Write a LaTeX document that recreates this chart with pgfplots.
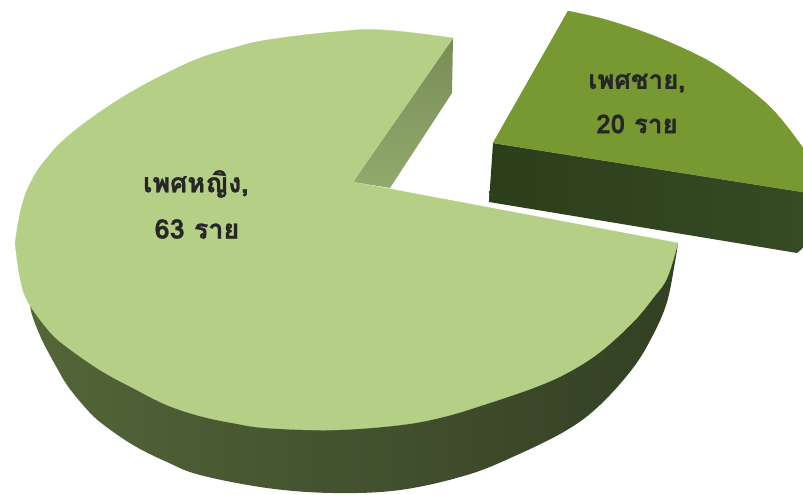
\documentclass[border=0pt]{standalone}
\usepackage{pgfplots}
\pgfplotsset{compat=1.18}
\usepackage{fontspec}
\newfontfamily\thaifont[Script=Thai,BoldFeatures={FakeBold=0.9}]{Loma}

\definecolor{femaleTop}{RGB}{182,207,134}
\definecolor{maleTop}{RGB}{120,152,50}
\definecolor{maleSideA}{RGB}{44,62,26}
\definecolor{maleSideB}{RGB}{54,74,36}
\definecolor{wallA}{RGB}{146,170,110}
\definecolor{wallB}{RGB}{120,140,84}
\definecolor{rimA}{RGB}{115,135,75}
\definecolor{rimB}{RGB}{88,106,58}
\definecolor{rimC}{RGB}{72,88,50}
\definecolor{rimD}{RGB}{62,76,44}
\definecolor{rimE}{RGB}{52,66,36}
\definecolor{rimF}{RGB}{44,58,30}

% Rim of the large slice: lighter on the left, nearly black-green on the right
\pgfdeclarehorizontalshading{femaleRim}{100bp}{
  color(0bp)=(rimA);
  color(20bp)=(rimB);
  color(42bp)=(rimC);
  color(58bp)=(rimD);
  color(73bp)=(rimE);
  color(100bp)=(rimF)}

\begin{document}
\begin{tikzpicture}
% keep the page at the full plot area
\path[use as bounding box] (0,0) rectangle (803pt,495pt);
\begin{axis}[
  scale only axis, width=803pt, height=495pt,
  xmin=0, xmax=803, ymin=0, ymax=495, y dir=reverse,
  axis lines=none, clip=true,
  every axis plot/.append style={no markers, line join=round}]

% male slice: rim, then the top face as a sector body plus its curved edge
\addplot[draw=none, left color=maleSideA, right color=maleSideB] coordinates {
  (493,143) (489,202) (797,253) (803,248) (803,192)} --cycle;
\addplot[draw=maleTop, line width=0.3pt, fill=maleTop] coordinates {
  (568,11) (493,143) (815,194) (815,170)} --cycle;
\addplot[draw=maleTop, line width=0.3pt, fill=maleTop, smooth, tension=0.6] coordinates {
  (568,11) (607,20) (657,37) (707,60) (740,82) (773,110) (803,148) (815,170)} --cycle;

% female slice: outer rim
\addplot[draw=none, shading=femaleRim, smooth, tension=0.6] coordinates {
  (27,285) (30,305) (33,318) (43,342) (57,368) (67,385) (83,405) (100,422) (133,445)
  (167,462) (200,475) (267,488) (333,493) (400,490) (467,475) (517,455) (567,430)
  (600,405) (633,368) (653,335) (667,302) (675,262) (678,243)} --cycle;

% female slice: cut wall seen through the gap
\addplot[draw=none, bottom color=wallA, top color=wallB] coordinates {
  (353,182) (453,38) (452,93) (390,188)} --cycle;

% female slice: top face, a body with the notch plus the back and front arcs
\addplot[draw=femaleTop, line width=0.3pt, fill=femaleTop] coordinates {
  (453,38) (353,182) (678,243) (15,243)} --cycle;
\addplot[draw=femaleTop, line width=0.3pt, fill=femaleTop, smooth, tension=0.7] coordinates {
  (453,38) (383,30) (333,32) (267,40) (233,48) (200,58) (167,73) (133,91) (100,112)
  (67,137) (47,158) (33,178) (22,205) (15,243)} --cycle;
\addplot[draw=femaleTop, line width=0.3pt, fill=femaleTop, smooth, tension=0.6] coordinates {
  (15,243) (20,278) (28,302) (50,332)
  (67,347) (100,370) (133,388) (167,405) (200,416) (233,423) (267,428) (333,430)
  (400,425) (443,417) (483,405) (533,388) (567,373) (600,352) (633,322) (653,298)
  (667,278) (678,243)} --cycle;

\node[font=\thaifont\bfseries\fontsize{27}{30}\selectfont, text=black!85] at (axis cs:196,184) {เพศหญิง,};
\node[font=\thaifont\bfseries\fontsize{27}{30}\selectfont, text=black!85] at (axis cs:197,229) {63 ราย};
\node[font=\thaifont\bfseries\fontsize{26}{30}\selectfont, text=black!85] at (axis cs:637,83) {เพศชาย,};
\node[font=\thaifont\bfseries\fontsize{26}{30}\selectfont, text=black!85] at (axis cs:637,124) {20 ราย};
\end{axis}
\end{tikzpicture}
\end{document}
